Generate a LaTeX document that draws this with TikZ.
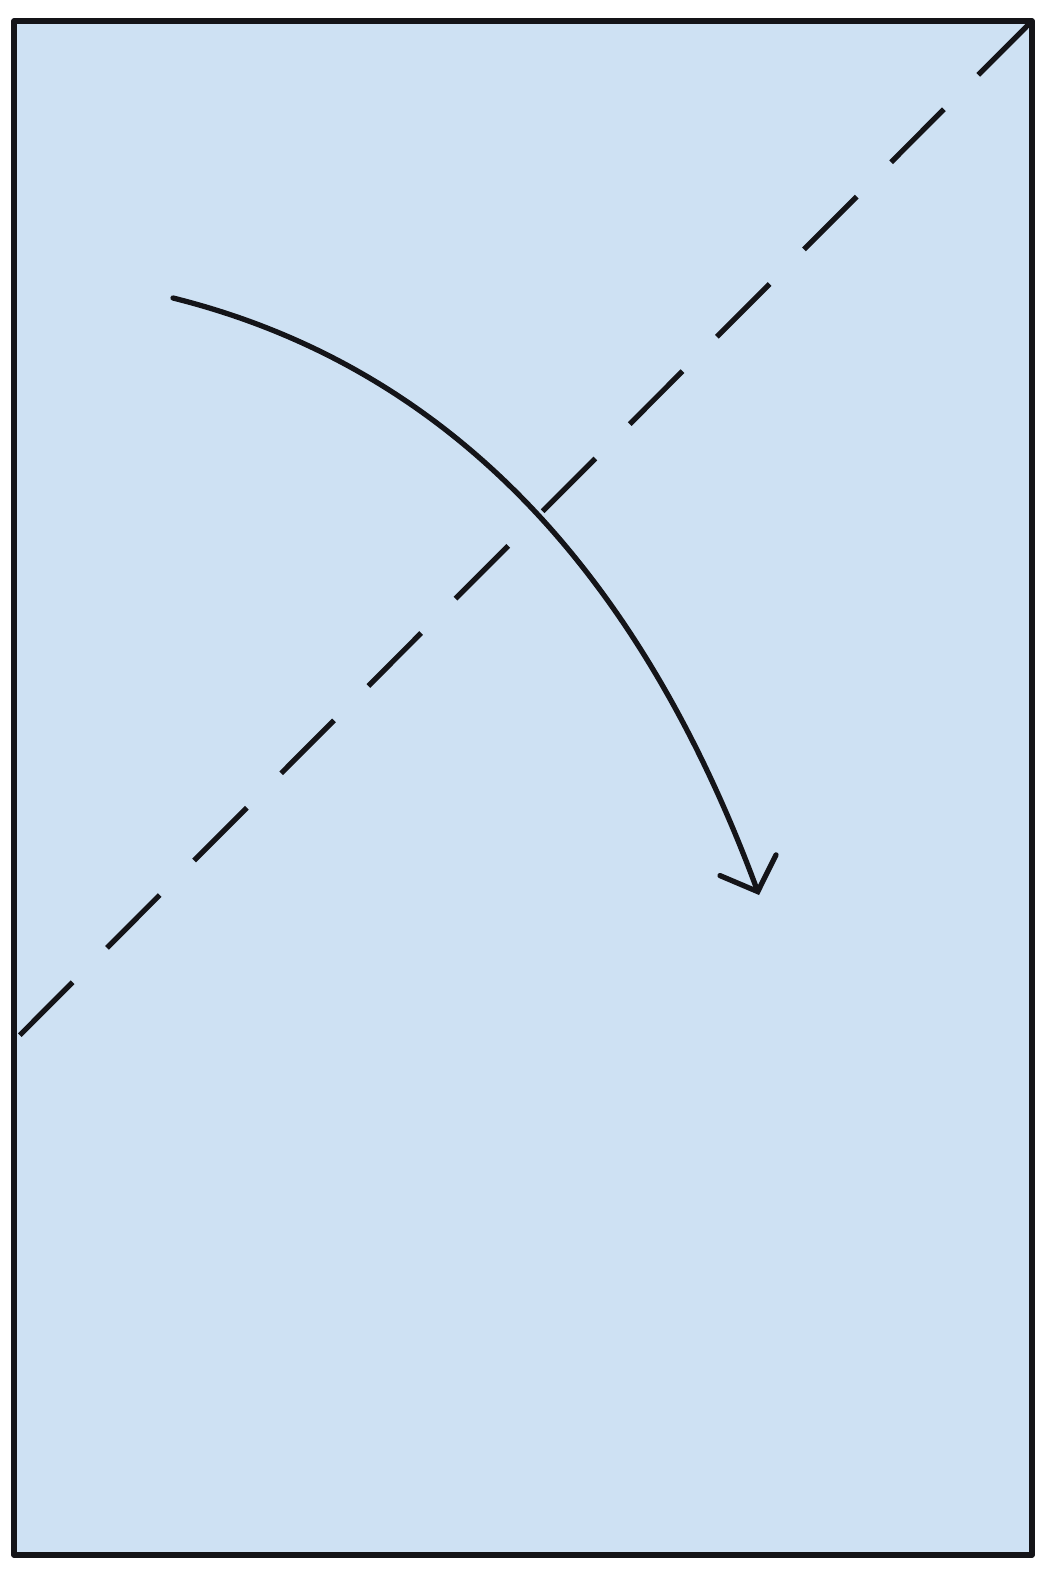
\documentclass[tikz,border=0pt]{standalone}
\usepackage{tikz}
\usetikzlibrary{arrows.meta}
\definecolor{paper}{RGB}{206,225,243}
\definecolor{ink}{RGB}{20,20,24}

\begin{document}
\begin{tikzpicture}[x=0.02cm,y=-0.02cm,line join=round]
\useasboundingbox (0,0) rectangle (1038,1571);
\coordinate (nw) at (14,21);
\coordinate (se) at (1032,1555);
\coordinate (foldtop) at (1031,22);
\coordinate (foldleft) at (15,1040);
\coordinate (from) at (173,298);
\coordinate (to) at (759,895);
% sheet of paper
\filldraw[fill=paper,draw=ink,line width=3.2pt] (nw) rectangle (se);
% valley fold
\draw[ink,line width=3pt,dash pattern=on 42.5pt off 27.7pt] (foldtop)--(foldleft);
% folding arrow
\draw[ink,line width=3pt,line cap=round,-{Straight Barb[length=16pt,width=34pt,line cap=round]}]
  (from) .. controls (470,372) and (650,600) .. (to);
\end{tikzpicture}
\end{document}
